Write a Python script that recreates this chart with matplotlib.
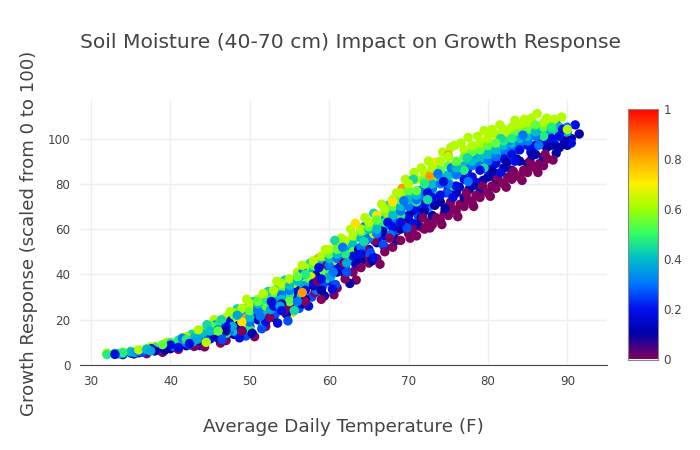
import numpy as np
import matplotlib
matplotlib.use('Agg')
import matplotlib.pyplot as plt
from matplotlib.colors import LinearSegmentedColormap

# (temperature F, growth response), one list per soil moisture level
m00 = [(37,5.0),(39,5.6),(41,6.9),(43,8.2),(47,10.8),(49,15),(52,17),(55,26),(57,28),(58.5,37),(59,29),(60,40),(61,34),(62,38),(63,41),(64,43),(64.5,51),(65,45),(66,47),(67,50),(68,52),(68.5,59),(69,55),(70,58),(70.5,60),(71,57),(71.5,61),(72,60),(72.5,63),(73,62),(73.5,65),(74,64),(74.5,67),(75,66),(75.5,69),(76,68),(76.5,71),(77,70),(77.5,73),(78,72),(78.5,75),(79,74),(79.5,77),(80,76),(80.5,79),(81,78),(81.5,81),(82,80),(82.5,83),(83,82),(83.5,84),(84,83),(84.5,86),(85,85),(85.5,88),(86,87),(86.5,89),(87,88),(87.5,91)]
m00b = [(52.5,21),(54.3,24),(56.4,33),(58.2,32),(59.7,44),(60.6,31),(61.8,45),(63.4,37.5),(64.2,47),(65.7,55),(66.4,44.5),(67.6,56),(69.3,62),(70.2,56),(71.8,65),(72.7,60.5),(74.2,62),(75.3,72),(76.2,65.5),(77.3,76),(78.2,70),(79.3,79),(80.3,74.5),(81.2,82.5),(82.3,78.5),(83.2,85.5),(84.3,81.5),(85.3,90),(86.3,85),(87.2,93),(88.2,90.5),(44.3,8),(50.6,12.5),(46.3,9.7)]
m10 = [(34,4.6),(36,5.4),(38,6.2),(40,7.2),(42,8.5),(44,10.5),(46,12),(47,15),(48,13.5),(50,17),(51,20),(53,21),(54,27),(55,25),(56,31),(57,29),(58,35),(59,33),(60,38),(61,41),(62,40),(63,46),(64,46),(65,48),(66,54),(67,52),(68,58),(69,60),(70,64),(71,62),(72,68),(73,66),(74,72),(75,70),(76,76),(77,74),(78,79),(79,78),(80,83),(81,82),(82,87),(83,86),(84,90),(85,89),(86,93),(87,92),(88,97),(89,96),(90,97),(90.5,100),(91.5,102)]
m10b = [(35.4,4.9),(39.3,6.6),(41.6,9.4),(43.7,8.6),(45.4,13.6),(48.6,17.5),(50.3,14),(52.4,23.5),(54.6,22.5),(56.6,27),(58.3,39.5),(59.4,30.5),(60.7,43.5),(62.6,36),(63.7,51),(65.4,46),(66.7,59),(68.4,55),(70.4,68),(71.6,65),(73.3,70.5),(74.6,69),(76.4,78.5),(77.6,77.5),(79.4,81.5),(80.6,85.5),(82.4,89.5),(83.6,91),(85.6,92.5),(87.4,96),(88.6,93.5),(89.6,99)]
m18 = [(33,4.7),(35,5.3),(37,6.3),(39,7.4),(40,8.8),(41,7.8),(43,10.5),(45,11.5),(46,14),(47,17),(49,15),(50,20),(51,23),(52,19),(53,26),(54,24),(55,29),(56,30),(57,33),(58,36),(59,38),(60,37),(61,44),(62,43),(63,48),(64,49),(65,51),(66,55),(67,57),(68,61),(69,63),(70,66),(71,69),(72,71),(73,74),(74,75),(75,78),(76,79),(77,82),(78,83),(79,86),(80,86),(81,89),(82,91),(83,93),(84,95),(85,97),(86,97),(87,99),(88,100),(89,101),(90,103),(91,106),(90.5,98)]
m18b = [(37.6,7.2),(42.4,9.5),(44.6,12.3),(47.6,19.5),(48.7,12),(50.6,24.5),(52.7,28),(53.5,18.5),(55.6,34),(57.4,26),(58.7,43),(60.4,33.5),(61.6,49),(63.4,43.5),(64.6,55),(65.6,47.5),(67.4,63),(69.6,71),(70.6,62.5),(72.4,76),(74.4,81),(75.6,74),(77.4,86),(78.6,80.5),(80.4,89),(81.6,85),(83.4,90),(85.4,94),(86.6,100.5),(88.4,97.5),(89.4,104)]
m26 = [(36.5,5.6),(38.5,6.5),(40.5,8),(42.5,8.8),(44.5,10.8),(46.5,11.3),(48.2,14.5),(49.5,12.8),(51.5,16),(53.2,22.5),(54.8,19.5),(56.2,25),(57.8,30),(59.2,35),(60.8,35.5),(62.2,41),(63.8,44.5),(65.2,49.5),(66.8,53),(68.2,59.5),(69.8,60.5),(71.2,66),(72.8,72),(74.8,76)]
m30 = [(34,5.1),(36,5.9),(38,7),(40,9.2),(42,9.8),(44,12.5),(46,15.5),(47,12.5),(48,18),(49,21),(50,19),(51,24),(52,25),(53,29),(54,31),(55,33),(56,28),(57,37),(58,40),(59,36),(60,44),(61,47),(62,46),(63,51),(64,52),(65,56),(66,58),(67,61),(68,64),(69,68),(70,70),(71,73),(72,74),(73,78),(74,80),(75,80),(76,84),(77,85),(78,88),(79,88),(80,90),(81,92),(82,94),(83,96),(84,98),(85,99),(86,101),(87,102),(88,103),(89,102),(90,105)]
m30b = [(41.5,11.8),(43.5,14.3),(45.6,17.6),(47.4,14.8),(49.6,25),(51.3,21.5),(53.6,34),(55.4,26.5),(56.7,41),(58.4,33),(60.5,41),(61.7,52),(63.6,47),(64.4,61),(66.4,64),(67.7,57.5),(69.4,72.5),(71.4,77),(72.6,70),(73.7,84.5),(75.4,87),(77.5,81),(78.4,92),(80.7,94.5),(82.6,99),(84.4,101.5),(86.4,97),(88.6,106.5),(89.7,103.5)]
m37 = [(33.5,4.9),(35.5,5.5),(37.5,6.2),(38.8,7.6),(40.4,8.4),(41.2,10.4),(42.8,10.2),(43.4,11.4),(44.8,14.6),(45.8,12.2),(46.8,16),(47.8,17),(48.4,22),(49.4,17),(50.2,22.5),(51.8,19),(52.6,24.5),(53.8,26),(55.2,30),(56.8,35),(58.6,37.5),(60.2,39),(62.2,45),(64.6,49.5),(66.2,56)]
m40 = [(33,5),(35,5.8),(37,6.9),(39,8.3),(41,9.8),(43,12),(44,14),(45,15),(47,19),(48,15),(49,23),(50,21),(51,27),(52,22),(53,31),(54,29),(55,35),(56,37),(57,34),(58,42),(59,44),(60,47),(61,49),(62,52),(63,53),(64,56),(65,60),(66,60),(67,64),(68,66),(69,70),(70,73),(71,75),(72,78),(73,80),(74,83),(75,84),(76,87),(77,88),(78,90),(79,92),(80,93),(81,95),(82,97),(83,98),(84,100),(85,101),(86,103),(87,104),(88,104),(89,105),(90,103)]
m44 = [(46.4,20),(48.4,24.8),(50.4,28),(52.3,32.5),(54.4,37.5),(55.6,24),(57.6,45),(59.6,38),(60.7,55),(62.4,47),(64.4,54.5),(65.6,67),(67.4,70.5),(68.7,60),(70.6,82),(72.4,73),(73.6,88),(75.6,79),(77.4,91.5),(79.5,87),(81.6,100),(83.5,95),(85.5,105),(87.6,100),(88.8,102.5),(44.6,17.8),(42.7,13.6),(51.5,18.5),(56.5,30.5)]
m47 = [(32,4.6),(34,5.4),(36,6.3),(38,7.8),(40,9.8),(41,11),(42,11.3),(43,13.5),(44,11.5),(45,16.5),(46,17.5),(47,14),(48,20),(49,24),(50,16),(51,25),(52,29),(53,24),(54,33),(55,31),(56,38),(57,40),(58,38),(59,46),(60,42),(61,50),(62,49),(63,55),(64,58),(65,57),(66,62),(67,63),(68,68),(69,66),(70,75),(71,72),(72,80),(73,77),(74,85),(75,82),(76,89),(77,86),(78,92),(79,90),(80,95),(81,93),(82,99),(83,100),(84,102),(85,99),(86,104),(87,101),(88,105)]
m54 = [(32,5),(33,5.2),(35,6),(37,7.2),(39,9),(41,10),(42,12),(44,13),(45,17.5),(46,15),(47,20),(48,22),(49,18),(50,24),(51,28),(52,26),(53,32),(54,35),(55,28),(56,39),(57,36),(58,44),(59,41),(60,49),(61,51),(62,54),(63,50),(64,59),(65,61),(66,64),(67,67),(68,70),(69,73),(70,77),(71,77),(72,82),(73,84),(74,86),(75,88),(76,90),(77,92),(78,94),(79,95),(80,97),(81,98),(82,100),(83,102),(84,103),(85,104),(86,106),(87,105)]
m62 = [(32,5.3),(33,4.8),(34,5.7),(36,6.7),(38,8.2),(40,10),(42,12.5),(44,15),(44.5,10),(46,18.5),(47,21),(48,23),(49,25),(50,27),(51,29),(52,31),(53,33),(54,36),(55,38),(56,41),(57,43),(58,46),(59,48),(60,51),(61,53),(62,55),(63,57),(64,60),(65,63),(66,66),(67,69),(68,73),(69,76),(70,80),(71,82),(72,85),(73,87),(74,90),(75,92),(75.8,97),(77,95),(78,97),(79,98),(80,100),(81,102),(82,104),(83,105),(84,106),(85,107),(86.2,111),(87,107),(88,106),(89.3,109.5),(90,104)]
m62b = [(45.5,20),(47.5,23.5),(48.5,20),(49.6,29),(51.7,31.5),(53.4,37),(54.7,33),(56.6,44),(57.7,39),(59.5,51),(61.5,56),(62.7,60),(64.5,65),(65.6,58),(66.6,71),(68.5,76),(69.6,82),(70.7,85),(71.6,87),(72.5,90),(74.3,94),(75.3,96),(76.6,98),(77.5,100.5),(78.7,101),(80.5,104),(81.5,106),(83.4,108),(84.6,108.5),(85.5,109),(87.4,109),(88.4,108.5),(80.2,103),(82.3,102),(79.5,103.5),(73.7,83),(67.6,65),(60.5,46),(55.5,36),(43.5,15.5),(41.5,12),(39.5,10),(37.5,8)]
m72 = [(46,14),(49,19),(52,24),(55.3,23),(63.3,62.6),(66,66),(68,72),(70,80),(73.3,89.6),(79.6,98.5)]
m82 = [(49.6,20.7),(56.6,32),(58.6,47),(69.2,78),(72.7,83.5),(75,92.7),(76,89)]
moisture_groups = [m00, m00b, m10, m10b, m18, m18b, m26, m30, m30b, m37, m40, m44, m47, m54, m62, m62b, m72, m82]
moisture_levels = [0.0, 0.0, 0.1, 0.1, 0.18, 0.18, 0.26, 0.3, 0.3, 0.37, 0.4, 0.44, 0.47, 0.54, 0.62, 0.62, 0.72, 0.82]

x_ticks = [30, 40, 50, 60, 70, 80, 90]
y_ticks = [0, 20, 40, 60, 80, 100]
cbar_ticks = [0, 0.2, 0.4, 0.6, 0.8, 1]
cbar_labels = ['0', '0.2', '0.4', '0.6', '0.8', '1']

TEXT = '#444444'
plt.rcParams['font.family'] = ['DejaVu Sans']

cmap = LinearSegmentedColormap.from_list('moisture', [
    (0.0, '#800060'), (0.1, '#0000aa'), (0.2, '#0010f0'), (0.3, '#0078ff'),
    (0.4, '#00bec8'), (0.5, '#32ff64'), (0.6, '#a0ff00'), (0.7, '#fff000'),
    (0.8, '#ffaa00'), (0.9, '#ff5a00'), (1.0, '#ff0000')])

temp = np.array([p[0] for g in moisture_groups for p in g], dtype=float)
resp = np.array([p[1] for g in moisture_groups for p in g], dtype=float)
moist = np.array([lv for g, lv in zip(moisture_groups, moisture_levels) for p in g])
# mixed drawing order so no colour ends up always on top
order = np.argsort((np.arange(len(temp)) * 137) % len(temp), kind='stable')

fig = plt.figure(figsize=(7, 4.5), dpi=100)
ax = fig.add_axes([80/700, 1 - 365/450, 527/700, 265/450])
ax.scatter(temp[order], resp[order], c=moist[order], cmap=cmap, vmin=0, vmax=1,
           s=46, linewidths=0, zorder=3, clip_on=False)
ax.set_xlim(28.6, 95)
ax.set_ylim(0, 117)
ax.set_xticks(x_ticks)
ax.set_yticks(y_ticks)
ax.grid(True, color='#eeeeee', linewidth=1)
ax.set_axisbelow(True)
for side in ['top', 'right', 'left']:
    ax.spines[side].set_visible(False)
ax.spines['bottom'].set_color(TEXT)
ax.tick_params(length=0, labelsize=8.6, labelcolor=TEXT, pad=7)

cax = fig.add_axes([628/700, 1 - 359.5/450, 30/700, 251/450])
grad = np.linspace(0, 1, 256).reshape(-1, 1)
cax.imshow(grad, aspect='auto', origin='lower', cmap=cmap, extent=[0, 1, 0, 1])
cax.set_xticks([])
cax.yaxis.tick_right()
cax.set_yticks(cbar_ticks)
cax.set_yticklabels(cbar_labels)
cax.tick_params(length=0, labelsize=8.6, labelcolor=TEXT, pad=4)
for spine in cax.spines.values():
    spine.set_color('#888888')

fig.text(350/700, 1 - 42/450, 'Soil Moisture (40-70 cm) Impact on Growth Response',
         ha='center', va='center', fontsize=14.6, color=TEXT)
fig.text(343/700, 1 - 427/450, 'Average Daily Temperature (F)',
         ha='center', va='center', fontsize=13.2, color=TEXT)
fig.text(29/700, 1 - 233/450, 'Growth Response (scaled from 0 to 100)',
         ha='center', va='center', rotation=90, fontsize=13.1, color=TEXT)

fig.savefig('out.png', dpi=100)
